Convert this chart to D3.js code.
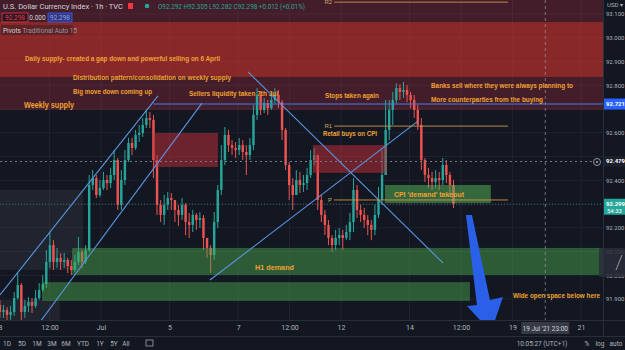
<!DOCTYPE html>
<html><head><meta charset="utf-8">
<script src="https://cdn.jsdelivr.net/npm/d3@7"></script>
<style>html,body{margin:0;padding:0;background:#131722;overflow:hidden}svg{display:block}</style>
</head><body><svg id="c" width="625" height="350"></svg>
<script>
// ---------- DATA ----------
// bars of ~2.5 trading hours starting 28 Jun 2021 (day 0)
const candleOpen = [91.875,91.845,91.854,91.833,91.845,91.904,91.959,91.845,91.871,91.887,
 91.871,91.904,91.938,91.963,92.056,92.127,92.056,92.073,92.056,92.064,
 92.039,92.022,92.056,92.098,92.056,92.106,92.380,92.409,92.338,92.367,
 92.401,92.388,92.422,92.485,92.296,92.401,92.485,92.557,92.536,92.591,
 92.599,92.633,92.662,92.654,92.485,92.296,92.254,92.296,92.325,92.317,
 92.275,92.254,92.296,92.224,92.212,92.254,92.233,92.241,92.157,92.115,
 92.085,92.224,92.359,92.485,92.591,92.548,92.536,92.527,92.548,92.519,
 92.506,92.548,92.675,92.759,92.696,92.725,92.704,92.738,92.759,92.729,
 92.612,92.464,92.380,92.338,92.401,92.380,92.388,92.422,92.485,92.506,
 92.317,92.254,92.212,92.157,92.127,92.157,92.169,92.157,92.182,92.224,
 92.359,92.275,92.254,92.233,92.212,92.191,92.254,92.317,92.422,92.612,
 92.696,92.738,92.788,92.772,92.780,92.759,92.738,92.696,92.633,92.485,
 92.422,92.409,92.393,92.409,92.401,92.464,92.422,92.380];
const candleHigh = [91.896,91.875,91.866,91.871,91.929,92.009,91.967,91.896,91.908,91.904,
 91.938,91.967,92.001,92.106,92.182,92.148,92.115,92.094,92.094,92.073,
 92.064,92.085,92.161,92.106,92.127,92.422,92.443,92.422,92.401,92.435,
 92.422,92.452,92.527,92.494,92.443,92.527,92.578,92.578,92.612,92.633,
 92.662,92.696,92.687,92.675,92.506,92.317,92.338,92.351,92.346,92.317,
 92.296,92.325,92.304,92.262,92.275,92.262,92.266,92.254,92.157,92.127,
 92.266,92.380,92.548,92.624,92.612,92.569,92.561,92.578,92.569,92.548,
 92.578,92.717,92.788,92.772,92.746,92.738,92.772,92.788,92.780,92.738,
 92.620,92.477,92.409,92.443,92.435,92.422,92.452,92.527,92.536,92.506,
 92.338,92.275,92.233,92.169,92.191,92.199,92.191,92.212,92.262,92.409,
 92.380,92.296,92.283,92.254,92.233,92.296,92.372,92.527,92.738,92.738,
 92.772,92.809,92.805,92.814,92.801,92.772,92.759,92.717,92.662,92.494,
 92.452,92.435,92.443,92.435,92.494,92.485,92.435,92.401];
const candleLow = [91.820,91.820,91.812,91.812,91.829,91.896,91.812,91.820,91.845,91.841,
 91.862,91.896,91.929,91.946,92.031,92.022,92.031,92.022,92.031,92.009,
 92.001,92.014,92.043,92.031,92.047,92.098,92.359,92.325,92.329,92.359,
 92.359,92.367,92.401,92.275,92.275,92.380,92.477,92.506,92.527,92.561,
 92.582,92.620,92.620,92.409,92.254,92.224,92.212,92.275,92.275,92.224,
 92.208,92.233,92.169,92.157,92.182,92.191,92.199,92.106,92.073,92.009,
 92.064,92.199,92.338,92.464,92.519,92.506,92.494,92.506,92.485,92.422,
 92.485,92.527,92.654,92.675,92.683,92.675,92.696,92.725,92.704,92.569,
 92.443,92.317,92.275,92.338,92.346,92.351,92.359,92.409,92.464,92.275,
 92.224,92.169,92.127,92.098,92.106,92.127,92.106,92.148,92.148,92.182,
 92.241,92.224,92.199,92.169,92.148,92.169,92.241,92.296,92.422,92.569,
 92.633,92.725,92.738,92.746,92.729,92.704,92.662,92.612,92.443,92.393,
 92.367,92.359,92.367,92.359,92.380,92.388,92.338,92.283];
const candleClose = [91.845,91.854,91.833,91.845,91.904,91.959,91.845,91.871,91.887,91.871,
 91.904,91.938,91.963,92.056,92.127,92.056,92.073,92.056,92.064,92.039,
 92.022,92.056,92.098,92.056,92.106,92.380,92.409,92.338,92.367,92.401,
 92.388,92.422,92.485,92.296,92.401,92.485,92.557,92.536,92.591,92.599,
 92.633,92.662,92.654,92.485,92.296,92.254,92.296,92.325,92.317,92.275,
 92.254,92.296,92.224,92.212,92.254,92.233,92.241,92.157,92.115,92.085,
 92.224,92.359,92.485,92.591,92.548,92.536,92.527,92.548,92.519,92.506,
 92.548,92.675,92.759,92.696,92.725,92.704,92.738,92.759,92.729,92.612,
 92.464,92.380,92.338,92.401,92.380,92.388,92.422,92.485,92.506,92.317,
 92.254,92.212,92.157,92.127,92.157,92.169,92.157,92.182,92.224,92.359,
 92.275,92.254,92.233,92.212,92.191,92.254,92.317,92.422,92.612,92.696,
 92.738,92.788,92.772,92.780,92.759,92.738,92.696,92.633,92.485,92.422,
 92.409,92.393,92.409,92.401,92.464,92.422,92.380,92.299];
const barHours = 2.5;

// x-axis (trading days from 28 Jun)
const xTickDays   = [0, 1.5, 3, 5, 7, 8.5, 10, 12, 13.5, 15, 17];
const xTickLabels = ["28","12:00","Jul","5","7","12:00","12","14","12:00","19","21"];
const priceTicks  = [91.9,92.0,92.1,92.2,92.3,92.4,92.5,92.6,92.7,92.8,92.9,93.0,93.1];

// zones [day0, day1, priceTop, priceBottom]  (day1 = null -> to right edge)
const weeklySupply = [0, null, 93.25, 92.696];
const dailySupply  = [0, null, 93.066, 92.835];
const grayZones    = [[0, 2.48, 92.359, 92.022],[0, 1.80, 91.896, 91.80]];
const redBlocks    = [[4.52, 6.41, 92.599, 92.456],[9.18, 11.34, 92.548, 92.431]];
const h1Demand     = [2.16, null, 92.115, 92.001];
const lowerDemand  = [1.28, 13.76, 91.971, 91.892];
const cpiDemand    = [11.28, 14.37, 92.380, 92.304];

// trend lines [[day,price],[day,price]]
const trendLines = [
  [[0.055, 91.917],[4.663, 92.755]],
  [[1.222, 91.803],[5.946, 92.725]],
  [[7.288, 92.856],[12.975, 92.052]],
  [[6.18, 91.980],[12.245, 92.649]]
];
const hLineBlue = {from: 4.52, price: 92.721};
const pivotFrom = 9.8, pivotTo = 14.87;
const pivots = [{name:"R2", price:93.15},{name:"R1", price:92.628},{name:"P", price:92.317}];
const alertPrice = 92.479;
const lastPrice = 92.299;
const crossDay = 15.958;
const arrowPts = [[13.645,92.254],[13.82,92.254],[14.345,91.896],[14.724,91.908],[14.374,91.761],[13.674,91.871],[13.966,91.875]];

const notes = [
  {t:"Daily supply- created a gap down and powerful selling on 6 April", d:0.785, p:92.911, w:195, fs:7},
  {t:"Distribution pattern/consolidation on weekly supply", d:2.184, p:92.831, w:158, fs:7},
  {t:"Big move down coming up", d:2.184, p:92.774, w:79, fs:7},
  {t:"Sellers liquidity taken 7th Jul", d:5.567, p:92.767, w:89, fs:7},
  {t:"Weekly supply", d:0.755, p:92.717, w:50, fs:8.5},
  {t:"Stops taken again", d:9.533, p:92.759, w:54, fs:7},
  {t:"Banks sell where they were always planning to", d:12.625, p:92.797, w:142, fs:7},
  {t:"More counterparties from the buying", d:12.625, p:92.742, w:112, fs:7},
  {t:"Retail buys on CPI", d:9.475, p:92.595, w:54, fs:7},
  {t:"CPI 'demand' takeout", d:11.545, p:92.342, w:70, fs:7},
  {t:"H1 demand", d:7.492, p:92.035, w:39, fs:7.5},
  {t:"Wide open space below here", d:15.016, p:91.913, w:87, fs:7}
];

// ---------- CHART ----------
const W = 625, H = 350, plotR = 603, plotB = 320;
const svg = d3.select("#c");
const x = d3.scaleLinear().domain([0, 17]).range([-1.9, 581]);
const y = d3.scaleLinear().domain([91.9, 93.1]).range([299, 14]);
const barDays = barHours / 24;

svg.append("rect").attr("width", W).attr("height", H).attr("fill", "#131722");
const defs = svg.append("defs");
defs.append("clipPath").attr("id","plot").append("rect").attr("x",0).attr("y",0).attr("width",plotR).attr("height",plotB);
const g = svg.append("g").attr("clip-path","url(#plot)");

// grid
g.selectAll(".vg").data(xTickDays).enter().append("line")
  .attr("x1", d=>x(d)).attr("x2", d=>x(d)).attr("y1",0).attr("y2",plotB)
  .attr("stroke","#1f2330").attr("stroke-width",1);
g.selectAll(".hg").data(priceTicks).enter().append("line")
  .attr("x1",0).attr("x2",plotR).attr("y1", d=>y(d)).attr("y2", d=>y(d))
  .attr("stroke","#1f2330").attr("stroke-width",1);

function zone(z, fill){
  const x0 = x(z[0]), x1 = z[1]===null ? plotR : x(z[1]);
  return g.append("rect").attr("x", x0).attr("width", x1-x0)
    .attr("y", y(z[2])).attr("height", y(z[3])-y(z[2])).attr("fill", fill);
}
zone(weeklySupply, "rgba(242,54,69,0.22)");
zone(dailySupply, "rgba(205,52,42,0.5)");
grayZones.forEach(z=>zone(z, "rgba(120,123,134,0.13)"));

// candles
const candles = d3.range(candleClose.length).map(i=>({
  t: i*barDays, o: candleOpen[i], h: candleHigh[i], l: candleLow[i], c: candleClose[i]
}));
const bw = x(barDays) - x(0);
const cg = g.append("g");
cg.selectAll(".wick").data(candles).enter().append("line")
  .attr("x1", d=>x(d.t+barDays/2)).attr("x2", d=>x(d.t+barDays/2))
  .attr("y1", d=>y(d.h)).attr("y2", d=>y(d.l))
  .attr("stroke", d=>d.c>=d.o?"#26a69a":"#ef5350").attr("stroke-width",1);
cg.selectAll(".body").data(candles).enter().append("rect")
  .attr("x", d=>x(d.t+barDays/2)-bw*0.34).attr("width", bw*0.68)
  .attr("y", d=>y(Math.max(d.o,d.c)))
  .attr("height", d=>Math.max(1, Math.abs(y(d.o)-y(d.c))))
  .attr("fill", d=>d.c>=d.o?"#26a69a":"#ef5350");

// boxes on top
redBlocks.forEach(z=>zone(z, "rgba(200,48,58,0.5)"));
zone(h1Demand, "rgba(76,175,80,0.45)");
zone(lowerDemand, "rgba(76,175,80,0.45)");
zone(cpiDemand, "rgba(90,185,90,0.5)");

// lines
g.append("line").attr("x1",0).attr("x2",597).attr("y1",y(alertPrice)).attr("y2",y(alertPrice))
  .attr("stroke","#787b86").attr("stroke-dasharray","2,3").attr("stroke-width",1);
g.append("line").attr("x1",0).attr("x2",plotR).attr("y1",y(lastPrice)).attr("y2",y(lastPrice))
  .attr("stroke","#5d7f7c").attr("stroke-dasharray","1,2").attr("stroke-width",1).attr("opacity",0.7);
g.append("line").attr("x1",x(crossDay)).attr("x2",x(crossDay)).attr("y1",0).attr("y2",plotB)
  .attr("stroke","#9598a1").attr("stroke-dasharray","3,3").attr("stroke-width",1).attr("opacity",0.7);
g.append("line").attr("x1",x(hLineBlue.from)).attr("x2",plotR)
  .attr("y1",y(hLineBlue.price)).attr("y2",y(hLineBlue.price))
  .attr("stroke","#3f7ee8").attr("stroke-width",1.2);
trendLines.forEach(L=>{
  g.append("line").attr("x1",x(L[0][0])).attr("y1",y(L[0][1]))
   .attr("x2",x(L[1][0])).attr("y2",y(L[1][1]))
   .attr("stroke","#5b95e0").attr("stroke-width",1.1);
});
pivots.forEach(pv=>{
  g.append("line").attr("x1",x(pivotFrom)).attr("x2",x(pivotTo))
   .attr("y1",y(pv.price)).attr("y2",y(pv.price))
   .attr("stroke","#d99a4a").attr("stroke-width",1).attr("opacity",0.85);
  g.append("text").attr("x",x(pivotFrom)-2).attr("y",y(pv.price)+2)
   .attr("text-anchor","end").attr("font-family","Liberation Sans, Arial, sans-serif")
   .attr("font-size",6).attr("fill","#c9a46a").text(pv.name);
});

// arrow
g.append("polygon").attr("points", arrowPts.map(p=>[x(p[0]),y(p[1])].join(",")).join(" "))
  .attr("fill","#2a5fe8");

// notes
notes.forEach(n=>{
  g.append("text").attr("x",x(n.d)).attr("y",y(n.p)+n.fs*0.36)
   .attr("font-family","Liberation Sans, Arial, sans-serif").attr("font-weight","bold")
   .attr("font-size",n.fs).attr("fill","#f0a231")
   .attr("textLength",n.w).attr("lengthAdjust","spacingAndGlyphs").text(n.t);
});

// ---------- AXES ----------
const font = "Roboto, 'Liberation Sans', sans-serif";
svg.append("rect").attr("x",plotR).attr("y",0).attr("width",W-plotR).attr("height",H).attr("fill","#131722");
svg.append("rect").attr("x",0).attr("y",plotB).attr("width",W).attr("height",H-plotB).attr("fill","#131722");
svg.append("line").attr("x1",plotR+0.5).attr("x2",plotR+0.5).attr("y1",0).attr("y2",336).attr("stroke","#2a2e39");
svg.append("line").attr("x1",0).attr("x2",W).attr("y1",plotB+0.5).attr("y2",plotB+0.5).attr("stroke","#2a2e39");
svg.append("line").attr("x1",0).attr("x2",W).attr("y1",336.5).attr("y2",336.5).attr("stroke","#2a2e39");

// hide tick labels that sit under price badges
const badgePrices = [92.721, 92.479, 92.299];
const visTicks = priceTicks.filter(p=>!badgePrices.some(b=>Math.abs(b-p)<0.035));
const yAxis = d3.axisRight(y).tickValues(visTicks).tickFormat(d3.format(".3f")).tickSize(0).tickPadding(3);
const ya = svg.append("g").attr("transform",`translate(${plotR},0)`).call(yAxis);
ya.select(".domain").remove();
ya.selectAll("text").attr("font-family",font).attr("font-size",6).attr("fill","#b2b5be");

const xAxis = d3.axisBottom(x).tickValues(xTickDays).tickFormat((d,i)=>xTickLabels[i]).tickSize(0).tickPadding(5);
const xa = svg.append("g").attr("transform",`translate(0,${plotB})`).call(xAxis);
xa.select(".domain").remove();
xa.selectAll("text").attr("font-family",font).attr("font-size",7).attr("fill","#b2b5be");

svg.append("text").attr("x",607).attr("y",7).attr("font-family",font).attr("font-size",6).attr("fill","#b2b5be").text("USD ▾");

// badges
function badge(price, fill, txt, color, h){
  svg.append("rect").attr("x",plotR+1).attr("y",y(price)-5.5).attr("width",W-plotR-1).attr("height",h||11).attr("fill",fill);
  svg.append("text").attr("x",plotR+3).attr("y",y(price)+2).attr("font-family",font)
    .attr("font-size",6).attr("font-weight","bold").attr("fill",color).text(txt);
}
badge(hLineBlue.price, "#2962ff", d3.format(".3f")(hLineBlue.price), "#ffffff");
badge(alertPrice, "#1c202b", d3.format(".3f")(alertPrice), "#ffffff");
badge(lastPrice, "#26a69a", d3.format(".3f")(lastPrice), "#ffffff", 16);
svg.append("text").attr("x",plotR+4).attr("y",y(lastPrice)+8.5).attr("font-family",font)
  .attr("font-size",6).attr("fill","#ffffff").text("54:33");
svg.append("circle").attr("cx",597).attr("cy",y(alertPrice)+0.5).attr("r",3.5).attr("fill","#131722").attr("stroke","#b2b5be").attr("stroke-width",0.8);
svg.append("circle").attr("cx",597).attr("cy",y(alertPrice)+0.5).attr("r",1).attr("fill","#b2b5be");
svg.append("rect").attr("x",599).attr("y",248).attr("width",26).attr("height",29).attr("rx",2).attr("fill","#2a2e39").attr("opacity",0.85);
svg.append("line").attr("x1",616).attr("y1",270).attr("x2",622).attr("y2",255).attr("stroke","#b2b5be").attr("stroke-width",0.8);

// crosshair date label
const cx = x(crossDay);
svg.append("rect").attr("x",cx-24).attr("y",plotB+2).attr("width",48).attr("height",12).attr("fill","#363a45");
svg.append("text").attr("x",cx).attr("y",plotB+10.5).attr("text-anchor","middle").attr("font-family",font)
  .attr("font-size",6.5).attr("fill","#d1d4dc").text("19 Jul '21  23:00");

// bottom toolbar
const tb = [["1D",7],["5D",22],["1M",37],["3M",52],["6M",66],["YTD",83],["1Y",100],["5Y",114],["All",126]];
tb.forEach(t=>svg.append("text").attr("x",t[1]).attr("y",346).attr("text-anchor","middle").attr("font-family",font)
  .attr("font-size",6.5).attr("fill","#b2b5be").text(t[0]));
svg.append("rect").attr("x",146).attr("y",340).attr("width",7).attr("height",6).attr("fill","none").attr("stroke","#b2b5be").attr("stroke-width",0.7);
svg.append("text").attr("x",542).attr("y",346).attr("text-anchor","middle").attr("font-family",font)
  .attr("font-size",6.5).attr("fill","#b2b5be").text("10:05:27 (UTC+1)");
[["%",587],["log",600],["auto",616]].forEach(t=>svg.append("text").attr("x",t[1]).attr("y",346).attr("text-anchor","middle")
  .attr("font-family",font).attr("font-size",6.5).attr("fill","#b2b5be").text(t[0]));

// header
const hf = "Roboto, 'Liberation Sans', sans-serif";
svg.append("text").attr("x",3).attr("y",9).attr("font-family",hf).attr("font-size",8).attr("fill","#d1d4dc")
  .attr("textLength",120).attr("lengthAdjust","spacingAndGlyphs").text("U.S. Dollar Currency Index · 1h · TVC");
svg.append("rect").attr("x",128).attr("y",3).attr("width",5).attr("height",6).attr("fill","#f23645");
svg.append("circle").attr("cx",147).attr("cy",6).attr("r",2.3).attr("fill","#26a69a");
svg.append("text").attr("x",158).attr("y",9).attr("font-family",hf).attr("font-size",7).attr("fill","#26a69a")
  .attr("textLength",147).attr("lengthAdjust","spacingAndGlyphs").text("O92.292 H92.305 L92.282 C92.298 +0.012 (+0.01%)");
svg.append("rect").attr("x",2).attr("y",13).attr("width",26).attr("height",9).attr("fill","rgba(19,23,34,0.6)").attr("stroke","#f23645").attr("stroke-width",0.8);
svg.append("text").attr("x",15).attr("y",20).attr("text-anchor","middle").attr("font-family",hf).attr("font-size",6.5).attr("fill","#f23645").text("92.298");
svg.append("text").attr("x",37.5).attr("y",20).attr("text-anchor","middle").attr("font-family",hf).attr("font-size",6.5).attr("fill","#d1d4dc").text("0.000");
svg.append("rect").attr("x",48).attr("y",13).attr("width",24).attr("height",9).attr("fill","rgba(41,98,255,0.35)").attr("stroke","#2962ff").attr("stroke-width",0.8);
svg.append("text").attr("x",60).attr("y",20).attr("text-anchor","middle").attr("font-family",hf).attr("font-size",6.5).attr("fill","#7fa7ff").text("92.298");
svg.append("rect").attr("x",1).attr("y",25).attr("width",72).attr("height",10).attr("fill","rgba(19,23,34,0.35)");
const pv = svg.append("text").attr("x",3).attr("y",32.5).attr("font-family",hf).attr("font-size",6.5);
pv.append("tspan").attr("fill","#d1d4dc").text("Pivots ");
pv.append("tspan").attr("fill","#9598a1").text("Traditional Auto 15");
</script></body></html>
